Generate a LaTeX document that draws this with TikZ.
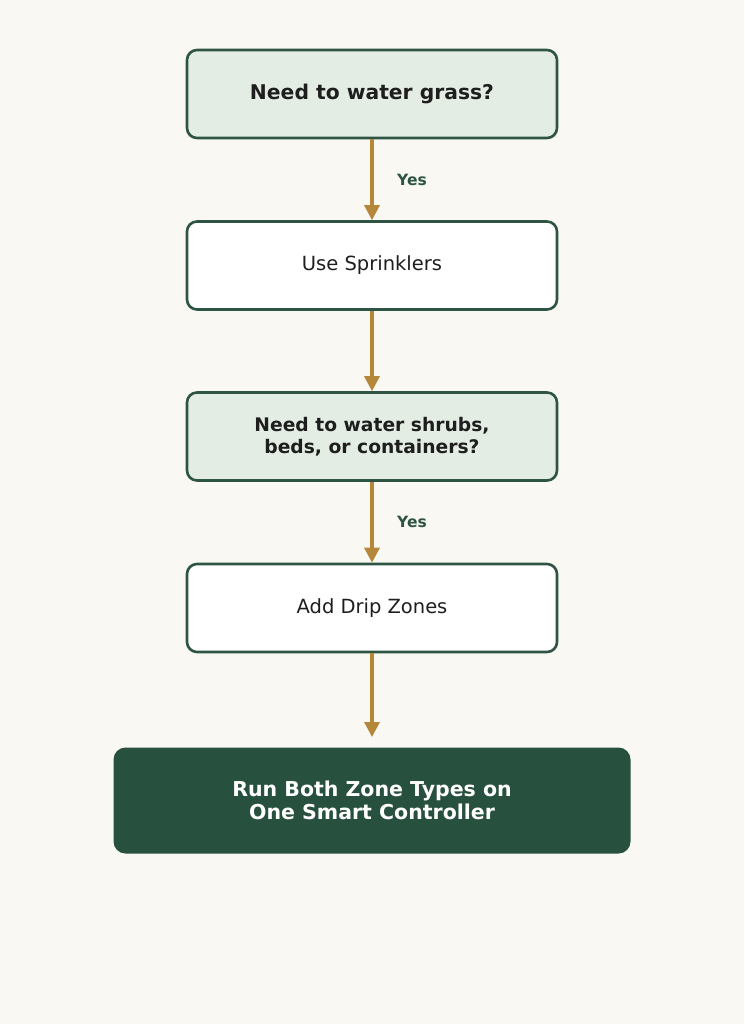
\documentclass[tikz,border=0pt]{standalone}
\usepackage{fontspec}
\setmainfont{DejaVu Sans}
\usetikzlibrary{arrows.meta}
\definecolor{bg}{HTML}{F9F8F3}
\definecolor{lg}{HTML}{E4EDE4}
\definecolor{dg}{HTML}{2E5443}
\definecolor{fg}{HTML}{27503F}
\definecolor{ar}{HTML}{B5873A}
\definecolor{tx}{HTML}{1E1E1E}
\begin{document}
\begin{tikzpicture}[x=1pt,y=-1pt,
  box/.style={draw=dg,line width=2.6pt,rounded corners=10pt,minimum width=370pt,minimum height=88pt,align=center,text=tx,font=\fontsize{19.5}{22}\selectfont},
  dec/.style={box,fill=lg,font=\fontsize{20.3}{22.5}\selectfont\bfseries},
  dec2/.style={box,fill=lg,font=\fontsize{18.7}{22}\selectfont\bfseries},
  act/.style={box,fill=white},
  fin/.style={fill=fg,rounded corners=12pt,minimum width=517pt,minimum height=106pt,align=center,text=white,font=\fontsize{20.5}{23}\selectfont\bfseries},
  arr/.style={draw=ar,line width=3.2pt,-{Triangle[length=15pt,width=15pt]}},
  lab/.style={text=dg,font=\fontsize{15.5}{18}\selectfont\bfseries}]
\fill[bg] (0,0) rectangle (744,1024);
\useasboundingbox (0,0) rectangle (744,1024);
\node[dec] (a) at (372,94) {Need to water grass?};
\node[act] (b) at (372,265.5) {Use Sprinklers};
\node[dec2] (c) at (372,436.5) {Need to water shrubs,\\beds, or containers?};
\node[act] (d) at (372,608) {Add Drip Zones};
\node[fin] (e) at (372,800.5) {Run Both Zone Types on\\One Smart Controller};
\coordinate (eTop) at (372,737);
\draw[arr] (a.south) -- (b.north);
\draw[arr] (b.south) -- (c.north);
\draw[arr] (c.south) -- (d.north);
\draw[arr] (d.south) -- (eTop);
\node[lab] (y1) at (412,180) {Yes};
\node[lab] (y2) at (412,522) {Yes};
\end{tikzpicture}
\end{document}
